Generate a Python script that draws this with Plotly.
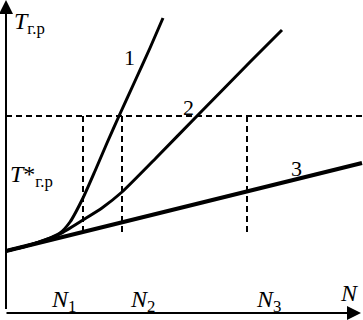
import plotly.graph_objects as go

# Data (N along x, T along y, arbitrary units; origin at axes corner)
curve1_N = [0, 24, 39, 54, 64, 77, 89, 101, 113, 129, 144, 157]
curve1_T = [62, 68, 73, 80, 91, 115, 142, 170, 197, 232, 265, 295]
curve2_N = [0, 24, 39, 54, 77, 96, 116, 150, 191, 244, 276]
curve2_T = [62, 68, 73, 79, 93, 105, 121, 155, 197, 251, 283]
curve3_N = [0, 356]
curve3_T = [62, 150]
T_star = 197
N_marks = [77, 116, 241]
N_mark_labels = ["<i>N</i><sub>1</sub>", "<i>N</i><sub>2</sub>", "<i>N</i><sub>3</sub>"]
curve_labels = ["1", "2", "3"]
curve_label_N = [123, 182, 290]
curve_label_T = [256, 206, 145]
dash_bottom_T = 78

FONT = "Times New Roman, Liberation Serif, serif"

fig = go.Figure()
for xs, ys, w, sm in [(curve1_N, curve1_T, 3, 0.6), (curve2_N, curve2_T, 3, 0.6), (curve3_N, curve3_T, 4, 0)]:
    fig.add_trace(go.Scatter(x=xs, y=ys, mode="lines",
                             line=dict(color="black", width=w, shape="spline" if sm else "linear",
                                       smoothing=sm if sm else 1),
                             hoverinfo="skip", showlegend=False))

# dashed T* level
fig.add_trace(go.Scatter(x=[0, 357], y=[T_star, T_star], mode="lines",
                         line=dict(color="black", width=2, dash="6px,4px"),
                         hoverinfo="skip", showlegend=False))
for n in N_marks:
    fig.add_trace(go.Scatter(x=[n, n], y=[T_star, dash_bottom_T], mode="lines",
                             line=dict(color="black", width=2, dash="6px,4px"),
                             hoverinfo="skip", showlegend=False))

ann = []
# axes with arrows
ann.append(dict(x=0, y=313, ax=0, ay=4, xref="x", yref="y", axref="x", ayref="y",
                showarrow=True, arrowhead=2, arrowsize=1.4, arrowwidth=2, arrowcolor="black", text=""))
ann.append(dict(x=355, y=0, ax=-1, ay=0, xref="x", yref="y", axref="x", ayref="y",
                showarrow=True, arrowhead=2, arrowsize=1.4, arrowwidth=2, arrowcolor="black", text=""))
# axis titles
ann.append(dict(x=6, y=290, xref="x", yref="y", text="<i>T</i><sub>г.р</sub>", showarrow=False,
                xanchor="left", yanchor="middle", font=dict(family=FONT, size=24, color="black")))
ann.append(dict(x=2, y=137, xref="x", yref="y", text="<i>T</i>*<sub>г.р</sub>", showarrow=False,
                xanchor="left", yanchor="middle", font=dict(family=FONT, size=24, color="black")))
ann.append(dict(x=343, y=20, xref="x", yref="y", text="<i>N</i>", showarrow=False,
                xanchor="center", yanchor="middle", font=dict(family=FONT, size=24, color="black")))
for n, lab in zip([57, 136, 262], N_mark_labels):
    ann.append(dict(x=n, y=12, xref="x", yref="y", text=lab, showarrow=False,
                    xanchor="center", yanchor="middle", font=dict(family=FONT, size=24, color="black")))
for lab, n, t in zip(curve_labels, curve_label_N, curve_label_T):
    ann.append(dict(x=n, y=t, xref="x", yref="y", text=lab, showarrow=False,
                    xanchor="center", yanchor="middle", font=dict(family=FONT, size=22, color="black")))

fig.update_layout(
    width=363, height=320,
    margin=dict(l=0, r=0, t=0, b=0),
    paper_bgcolor="white", plot_bgcolor="white",
    font=dict(family=FONT),
    xaxis=dict(range=[-6, 357], visible=False, fixedrange=True),
    yaxis=dict(range=[-7, 313], visible=False, fixedrange=True),
    annotations=ann,
    showlegend=False,
)
# vertical axis line (stops just above the horizontal axis)
fig.add_shape(type="line", x0=0, x1=0, y0=4, y1=300, xref="x", yref="y",
              line=dict(color="black", width=2))

fig.write_html("out.html", config={"displayModeBar": False, "staticPlot": True},
               post_script="document.body.style.margin='0';document.body.style.overflow='hidden';")
